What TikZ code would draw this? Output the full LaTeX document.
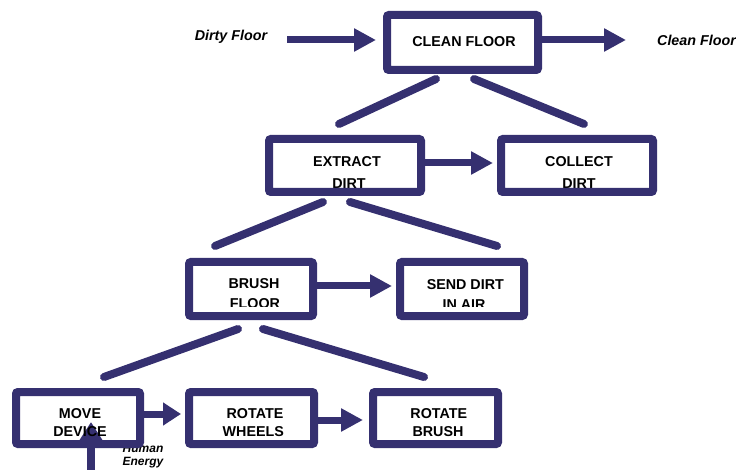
\documentclass[tikz,border=0pt]{standalone}
\usepackage{fontspec}
\setmainfont{Liberation Sans}
\usetikzlibrary{arrows.meta,calc}
\definecolor{navy}{RGB}{53,48,112}
\pgfdeclarelayer{back}
\pgfdeclarelayer{mid}
\pgfsetlayers{back,mid,main}
\tikzset{
  box/.style={draw=navy, line width=8pt, rounded corners=2pt, inner sep=0pt, fill=none},
  lbl/.style={anchor=base, inner sep=0pt, font=\fontsize{14.3}{17}\selectfont\bfseries, text=black},
  ital/.style={anchor=base, inner sep=0pt, font=\fontsize{14.3}{17}\selectfont\bfseries\itshape, text=black},
  small/.style={anchor=base, inner sep=0pt, font=\fontsize{12}{14}\selectfont\bfseries\itshape, text=black},
  conn/.style={draw=navy, line width=8pt, line cap=round},
  arr/.style={draw=navy, line width=7pt, -{Triangle[length=22pt,width=22pt]}},
}
\begin{document}
\begin{tikzpicture}[x=1pt,y=-1pt]
\useasboundingbox (0,0) rectangle (736,470);
% boxes
\node[box, minimum width=151pt, minimum height=55pt] (clean) at (462.5,42.5) {};
\node[box, minimum width=152pt, minimum height=53pt] (extract) at (345,165.5) {};
\node[box, minimum width=152pt, minimum height=53pt] (collect) at (577,165.5) {};
\node[box, minimum width=124pt, minimum height=54pt] (brush) at (251,289) {};
\node[box, minimum width=124pt, minimum height=54pt] (send) at (462,289) {};
\node[box, minimum width=124pt, minimum height=52pt] (move) at (78,418) {};
\node[box, minimum width=125pt, minimum height=52pt] (wheels) at (251.5,418) {};
\node[box, minimum width=125pt, minimum height=52pt] (rbrush) at (435.5,418) {};
% free ends
\coordinate (dirtyS) at (287,40);
\coordinate (cleanE) at (626,40);
\coordinate (humanS) at (91,474);
\coordinate (humanT) at (91,422);
\coordinate (c1a) at (436,79);  \coordinate (c1b) at (339,124);
\coordinate (c2a) at (474,79);  \coordinate (c2b) at (584,124);
\coordinate (e1a) at (323,202); \coordinate (e1b) at (215,246);
\coordinate (e2a) at (350,202); \coordinate (e2b) at (497,246);
\coordinate (b1a) at (238,329); \coordinate (b1b) at (104,377);
\coordinate (b2a) at (263,329); \coordinate (b2b) at (424,377);
\begin{pgfonlayer}{back}
\draw[arr, shorten >=7pt] (dirtyS) -- (dirtyS -| clean.west);
\draw[arr] (cleanE -| clean.east) -- (cleanE);
\draw[arr, shorten >=4pt] ([yshift=2.5pt]extract.east) -- ([yshift=2.5pt]collect.west);
\draw[arr, shorten >=4pt] ([yshift=3pt]brush.east) -- ([yshift=3pt]send.west);
\draw[arr, -{Triangle[length=18pt,width=22pt]}, shorten >=4pt] ([yshift=4pt]move.east) -- ([yshift=4pt]wheels.west);
\draw[arr, shorten >=6pt] ([yshift=-2pt]wheels.east) -- ([yshift=-2pt]rbrush.west);
\draw[arr, line width=8pt, -{Triangle[length=20pt,width=24pt]}] (humanS) -- (humanT);
\draw[conn] (c1a) -- (c1b);
\draw[conn] (c2a) -- (c2b);
\draw[conn] (e1a) -- (e1b);
\draw[conn] (e2a) -- (e2b);
\draw[conn] (b1a) -- (b1b);
\draw[conn] (b2a) -- (b2b);
\end{pgfonlayer}
\begin{pgfonlayer}{mid}
\node[ital] (tdirty) at (231,40.7) {Dirty Floor};
\node[ital] (tclean) at (696.5,45.3) {Clean Floor};
\node[lbl] (tc1) at (464,47) {CLEAN FLOOR};
\begin{scope}
\clip (265,135) rectangle (425,188.3);
\node[lbl] (te1) at (347,166.5) {EXTRACT};
\node[lbl] (te2) at (349,188.5) {DIRT};
\end{scope}
\begin{scope}
\clip (497,135) rectangle (657,188.3);
\node[lbl] (tk1) at (579,166.5) {COLLECT};
\node[lbl] (tk2) at (579,188.5) {DIRT};
\end{scope}
\begin{scope}
\clip (185,258) rectangle (317,306.7);
\node[lbl] (tb1) at (254,288.5) {BRUSH};
\node[lbl] (tb2) at (255,308.5) {FLOOR};
\end{scope}
\begin{scope}
\clip (396,258) rectangle (528,306);
\node[lbl] (ts1) at (465.3,290) {SEND DIRT};
\node[lbl] (ts2) at (464,309) {IN AIR};
\end{scope}
\node[lbl] (tm1) at (80,418.5) {MOVE};
\node[lbl] (tm2) at (80,436) {DEVICE};
\node[lbl] (tw1) at (255,418.5) {ROTATE};
\node[lbl] (tw2) at (253.3,436) {WHEELS};
\node[lbl] (tr1) at (438.8,418.5) {ROTATE};
\node[lbl] (tr2) at (438,436) {BRUSH};
\node[small] (th1) at (143,452.7) {Human};
\node[small] (th2) at (143,465) {Energy};
\end{pgfonlayer}
\end{tikzpicture}
\end{document}
